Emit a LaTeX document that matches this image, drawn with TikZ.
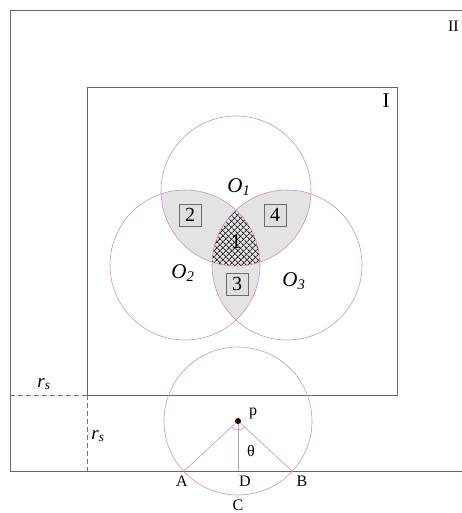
\documentclass[tikz,border=0pt]{standalone}
\usepackage{fontspec}
\setmainfont{Liberation Serif}
\usetikzlibrary{patterns.meta,angles}
\definecolor{ringc}{RGB}{200,146,190}

\begin{document}
\begin{tikzpicture}[x=1pt, y=-1pt,
  lbl/.style={font=\fontsize{16}{18}\selectfont, inner sep=1pt},
  biglbl/.style={font=\fontsize{21}{23}\selectfont, inner sep=1pt},
  rlbl/.style={font=\fontsize{19}{21}\selectfont, inner sep=1pt},
  numbox/.style={draw=gray!85!black, fill=gray!25, line width=0.7pt, minimum size=22pt, inner sep=0pt, font=\fontsize{20}{22}\selectfont},
  ring/.style={draw=ringc, line width=0.6pt},
  frame/.style={draw=black!60, line width=0.8pt},
  guide/.style={draw=black!55, dash pattern=on 5pt off 3pt, line width=0.7pt},
  lens/.style={fill=gray!22},
  hatch/.style={pattern={Lines[angle=45, distance=4pt, line width=1pt]}, pattern color=black!85}
]
\useasboundingbox (0,0) rectangle (461,513);

% centres and corner points
\coordinate (o1) at (236,191);
\coordinate (o2) at (185,265);
\coordinate (o3) at (287,265);
\coordinate (p) at (238,421);
\coordinate (A) at (184,471);
\coordinate (B) at (292,471);
\coordinate (D) at (238,471);
\coordinate (cornerin) at (87,395);
\coordinate (leftin) at (10,395);
\coordinate (leftout) at (10,471);
\coordinate (footin) at (87,471);

% shaded lenses
\begin{scope}
  \clip (o1) circle (75pt);
  \fill[lens] (o2) circle (75pt);
  \fill[lens] (o3) circle (75pt);
\end{scope}
\begin{scope}
  \clip (o2) circle (75pt);
  \fill[lens] (o3) circle (75pt);
\end{scope}
% triple region
\begin{scope}
  \clip (o1) circle (75pt);
  \clip (o2) circle (75pt);
  \fill[hatch] (o3) circle (75pt);
  \fill[hatch, pattern={Lines[angle=-45, distance=4pt, line width=1pt]}] (o3) circle (75pt);
\end{scope}

% frames
\draw[frame] (480,10) -- (10,10) -- (leftout) -- (480,471);
\draw[frame] (87,87) rectangle (397,395);
\draw[guide] (leftin) -- (cornerin);
\draw[guide] (cornerin) -- (footin);

% circles
\draw[ring] (o1) circle (75pt);
\draw[ring] (o2) circle (75pt);
\draw[ring] (o3) circle (75pt);
\draw[ring] (p) circle (74pt);

% sensor at the border
\draw[ring] (p) -- (A);
\draw[ring] (p) -- (B);
\draw[ring] (p) -- (D);
\pic[draw=ringc, line width=0.6pt, angle radius=9pt] {angle=A--p--B};
\fill[black!85!red] (p) circle (3pt);

% labels
\node[lbl, anchor=east] (lII) at (460,26) {II};
\node[biglbl] (lI) at (386,101) {I};
\node[biglbl] (lo1) at (239,187) {\textit{O\textsubscript{1}}};
\node[biglbl] (lo2) at (183,273) {\textit{O\textsubscript{2}}};
\node[biglbl] (lo3) at (294,281) {\textit{O\textsubscript{3}}};
\node[numbox] (n2) at (190,215) {2};
\node[numbox] (n4) at (275,215) {4};
\node[numbox] (n3) at (237,284) {3};
\node[biglbl] (n1) at (236,242) {1};
\node[lbl] (lp) at (253,413) {p};
\node[lbl] (lth) at (251,451) {θ};
\node[lbl] (lA) at (182,481) {A};
\node[lbl] (lD) at (245,481) {D};
\node[lbl] (lB) at (302,481) {B};
\node[lbl] (lC) at (238,505) {C};
\node[rlbl] (rs1) at (44,384) {\textit{r\textsubscript{s}}};
\node[rlbl] (rs2) at (98,436) {\textit{r\textsubscript{s}}};
\end{tikzpicture}
\end{document}
